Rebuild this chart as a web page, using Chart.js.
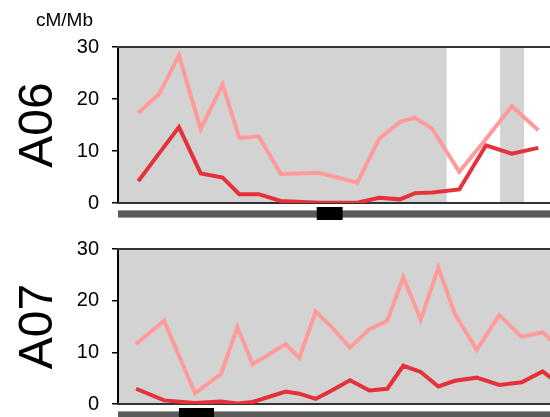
<!DOCTYPE html>
<html>
<head>
<meta charset="utf-8">
<script src="https://cdn.jsdelivr.net/npm/chart.js@4"></script>
<style>
  html, body { margin: 0; padding: 0; overflow: hidden; background: #fff; width: 550px; height: 417px; }
  canvas { position: absolute; left: 0; }
  #a06 { top: 0; }
  #a07 { top: 222px; }
</style>
</head>
<body>
<canvas id="a06" width="600" height="222"></canvas>
<canvas id="a07" width="600" height="200"></canvas>
<script>
// positions in Mb, recombination rates in cM/Mb
const yTicks = [0, 10, 20, 30];

const a06Pos   = [1.27, 2.58, 3.81, 5.17, 6.54, 7.58, 8.8, 10.17, 12.56, 14.96, 16.31, 17.63, 18.56, 19.64, 21.33, 23.0, 24.61, 26.27];
const a06Light = [17.3, 21.0, 28.4, 14.2, 22.8, 12.5, 12.8, 5.6, 5.8, 3.9, 12.3, 15.6, 16.4, 14.3, 6.0, 12.3, 18.6, 14.0];
const a06Red   = [4.2, 9.6, 14.6, 5.7, 4.9, 1.7, 1.7, 0.4, 0.05, 0.05, 1.0, 0.7, 1.9, 2.0, 2.6, 11.1, 9.5, 10.6];
const a06Shade = [[0, 20.54], [23.88, 25.38]];
const a06Centro = [12.42, 14.04];

const a07Pos   = [1.13, 2.88, 4.81, 6.44, 7.46, 8.42, 10.48, 11.33, 12.36, 13.36, 14.5, 15.71, 16.83, 17.83, 18.92, 20.02, 21.06, 22.42, 23.83, 25.23, 26.54, 28.0];
const a07Light = [11.6, 16.1, 2.1, 5.8, 14.8, 7.7, 11.6, 8.9, 17.9, 14.9, 10.9, 14.5, 16.1, 24.5, 16.3, 26.4, 17.4, 10.5, 17.2, 13.0, 13.9, 9.5];
const a07Red   = [2.95, 0.7, 0.2, 0.5, 0.1, 0.4, 2.4, 2.0, 1.0, 2.6, 4.6, 2.6, 2.95, 7.4, 6.2, 3.4, 4.5, 5.1, 3.7, 4.2, 6.3, 2.8];
const a07Shade = [[0, 29]];
const a07Centro = [3.81, 6.0];

const chromLen = 29;
const FONT = "'Liberation Sans', Arial, sans-serif";

const pts = (xs, ys) => xs.map((x, i) => ({ x, y: ys[i] }));

// shading, frame lines, chromosome bar and centromere
const panelDecor = {
  id: 'panelDecor',
  beforeDraw(chart, args, o) {
    const { ctx, chartArea: a, scales: { x } } = chart;
    ctx.save();
    ctx.fillStyle = '#d3d3d3';
    o.shade.forEach(([s, e]) => {
      const x0 = x.getPixelForValue(s), x1 = x.getPixelForValue(e);
      ctx.fillRect(x0, a.top, x1 - x0, a.bottom - a.top);
    });
    ctx.restore();
  },
  beforeDatasetsDraw(chart) {
    const { ctx, chartArea: a } = chart;
    ctx.save();
    ctx.strokeStyle = '#333';
    ctx.lineWidth = 2;
    ctx.beginPath();
    ctx.moveTo(a.left - 1, a.top); ctx.lineTo(a.right, a.top);
    ctx.moveTo(a.left - 1, a.bottom); ctx.lineTo(a.right, a.bottom);
    ctx.stroke();
    ctx.restore();
  },
  afterDraw(chart, args, o) {
    const { ctx, chartArea: a, scales: { x } } = chart;
    ctx.save();
    const x0 = x.getPixelForValue(0), x1 = x.getPixelForValue(o.len);
    ctx.fillStyle = '#9a9a9a';
    ctx.fillRect(x0, a.bottom + 7, x1 - x0, 8);
    ctx.fillStyle = '#5a5a5a';
    ctx.fillRect(x0, a.bottom + 8, x1 - x0, 6);
    const c0 = x.getPixelForValue(o.centro[0]), c1 = x.getPixelForValue(o.centro[1]);
    ctx.fillStyle = '#000';
    ctx.fillRect(c0, a.bottom + 4, c1 - c0, 13);
    if (o.unit) {
      ctx.fillStyle = '#000';
      ctx.font = '19px ' + FONT;
      ctx.textAlign = 'left';
      ctx.textBaseline = 'alphabetic';
      ctx.fillText(o.unit, 36, 26);
    }
    ctx.restore();
  }
};

function makePanel(id, name, pos, light, red, shade, centro, pad, unit) {
  return new Chart(document.getElementById(id), {
    type: 'line',
    data: {
      datasets: [
        { data: pts(pos, light), borderColor: '#ff9b9b', borderWidth: 4 },
        { data: pts(pos, red), borderColor: '#e5323a', borderWidth: 4 }
      ]
    },
    options: {
      responsive: false,
      animation: false,
      layout: { padding: pad },
      elements: { point: { radius: 0 }, line: { tension: 0 } },
      plugins: {
        legend: { display: false },
        tooltip: { enabled: false },
        panelDecor: { shade, centro, len: chromLen, unit }
      },
      scales: {
        x: { type: 'linear', min: 0, max: chromLen, display: false },
        y: {
          min: 0, max: 30,
          afterFit(s) { s.width = 118; s.paddingTop = 0; s.paddingBottom = 0; },
          afterBuildTicks(s) { s.ticks = yTicks.map(v => ({ value: v })); },
          ticks: { color: '#000', padding: 13, font: { family: FONT, size: 20 } },
          grid: { drawOnChartArea: false, tickLength: 6, color: '#000', lineWidth: 1.5 },
          border: { color: '#000', width: 2 },
          title: { display: true, text: name, color: '#000', padding: { top: 10, bottom: 0 }, font: { family: FONT, size: 48 } }
        }
      }
    },
    plugins: [panelDecor]
  });
}

makePanel('a06', 'A06', a06Pos, a06Light, a06Red, a06Shade, a06Centro, { left: 0, top: 47, right: 18, bottom: 19 }, 'cM/Mb');
makePanel('a07', 'A07', a07Pos, a07Light, a07Red, a07Shade, a07Centro, { left: 0, top: 27, right: 18, bottom: 18 }, null);
</script>
</body>
</html>
